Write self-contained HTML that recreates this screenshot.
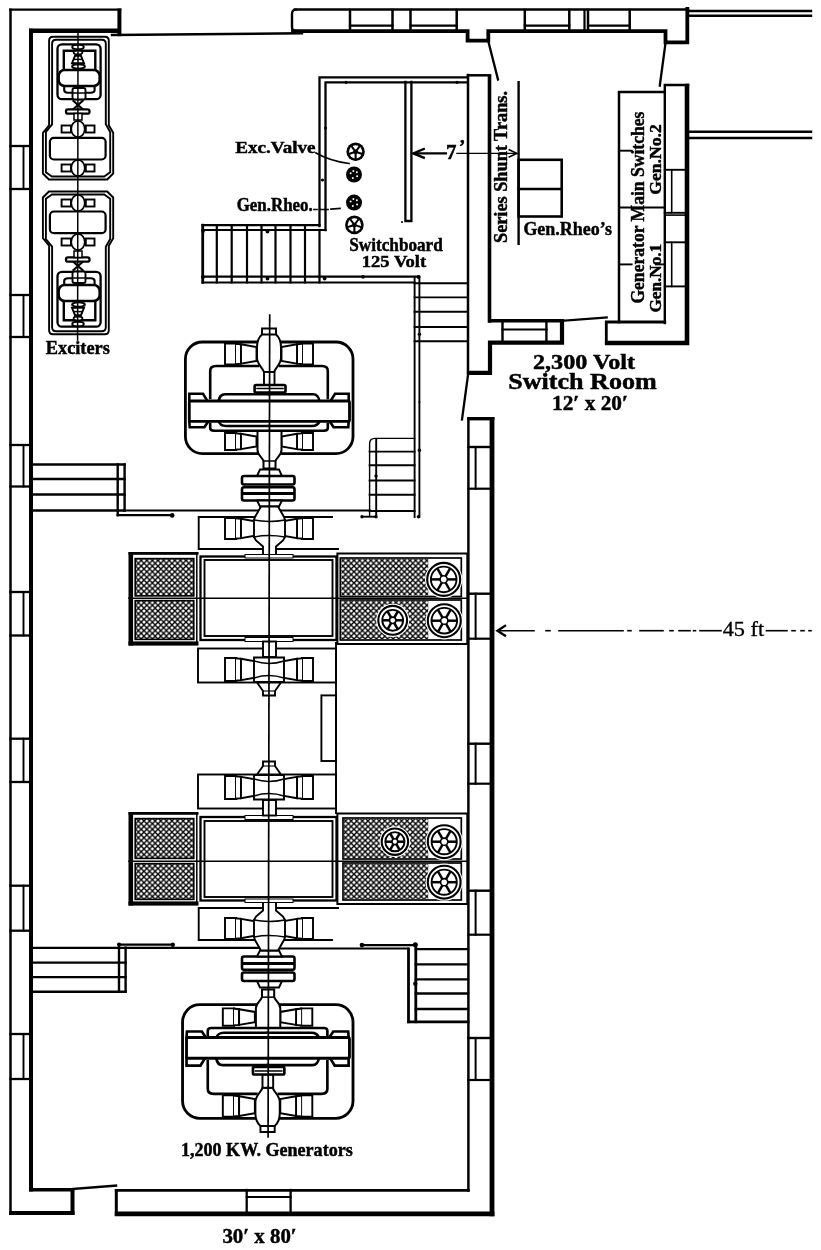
<!DOCTYPE html>
<html><head><meta charset="utf-8"><title>Power plant floor plan</title>
<style>
html,body{margin:0;padding:0;background:#fff;}
body{width:821px;height:1250px;overflow:hidden;font-family:"Liberation Serif",serif;}
svg{display:block;filter:grayscale(1);}
svg path, svg rect, svg circle, svg ellipse{fill:none;stroke:#000;stroke-linecap:square;stroke-linejoin:miter;}
</style></head><body>
<svg width="821" height="1250" viewBox="0 0 821 1250">
<defs>
<pattern id="hatch" width="5.6" height="5.6" patternUnits="userSpaceOnUse" patternTransform="translate(1.2,0.5)">
<rect x="0" y="0" width="5.6" height="5.6" style="fill:#fff;stroke:none"/>
<path d="M-1,-1L6.6,6.6M-1,6.6L6.6,-1M-3.8,1.7999999999999998L3.8,9.399999999999999M1.7999999999999998,-3.8L9.399999999999999,3.8M-3.8,3.8L3.8,-3.8M1.7999999999999998,9.399999999999999L9.399999999999999,1.7999999999999998" style="stroke:#000;stroke-width:1.35;fill:none;stroke-linecap:butt"/>
</pattern>

</defs>
<rect x="0" y="0" width="821" height="1250" style="fill:#fff;stroke:none"/>
<g id="walls">
<path d="M10.5,9.7L10.5,1213.75" stroke-width="2.5"/>
<path d="M31,30.8L31,1189.5" stroke-width="4"/>
<path d="M10.4,9.6L120.2,9.6" stroke-width="2.3"/>
<path d="M119.4,10.5L119.4,34.2" stroke-width="4"/>
<path d="M31.2,30.8L118,30.8" stroke-width="4.4"/>
<path d="M112,35L302,33.3" stroke-width="2.4"/>
<path d="M296,9.6 Q292,9.6 292,14 L292,27 Q292,31 296,31" stroke-width="2.4"/>
<path d="M295,9.6L688,9.6" stroke-width="2.5"/>
<path d="M293,31.2L467.6,31.2L467.6,40.6L488.3,40.6L488.3,31.2L665.5,31.2L665.5,42.3L687.3,42.3L687.3,9" stroke-width="3.8"/>
<path d="M350,10L350,31" stroke-width="2.5"/>
<path d="M392.5,10L392.5,31" stroke-width="2.5"/>
<path d="M350,25.6L392.5,25.6" stroke-width="2.2"/>
<path d="M410.5,10L410.5,31" stroke-width="2.5"/>
<path d="M456.7,10L456.7,31" stroke-width="2.5"/>
<path d="M410.5,25.6L456.7,25.6" stroke-width="2.2"/>
<path d="M524.8,10L524.8,31" stroke-width="2.5"/>
<path d="M569.3,10L569.3,31" stroke-width="2.5"/>
<path d="M524.8,25.6L569.3,25.6" stroke-width="2.2"/>
<path d="M588,10L588,31" stroke-width="2.5"/>
<path d="M629.7,10L629.7,31" stroke-width="2.5"/>
<path d="M588,25.6L629.7,25.6" stroke-width="2.2"/>
<path d="M584.5,10L584.5,31" stroke-width="2.2"/>
<path d="M688,11L811,11" stroke-width="2.4"/>
<path d="M688,15.8L811,15.8" stroke-width="2.4"/>
<path d="M688,131.7L811,131.7" stroke-width="2.5"/>
<path d="M688,138L811,138" stroke-width="2.5"/>
<path d="M31,1189.8L72.5,1189.8" stroke-width="3.4"/>
<path d="M11.2,1213L72.5,1213" stroke-width="4"/>
<path d="M72.5,1190L72.5,1213" stroke-width="4"/>
<path d="M73,1189L116,1185.6" stroke-width="2.4"/>
<path d="M116.3,1190.5L116.3,1214.5" stroke-width="3"/>
<path d="M116.2,1190.3L468.3,1190.3" stroke-width="2.7"/>
<path d="M117.2,1213.8L492,1213.8" stroke-width="4.8"/>
<path d="M246.7,1190L246.7,1213" stroke-width="2.3"/>
<path d="M290.6,1190L290.6,1213" stroke-width="2.3"/>
<path d="M246.7,1197L290.6,1197" stroke-width="2.0"/>
<path d="M468.4,418.5L468.4,1190.4" stroke-width="2.5"/>
<path d="M492,419.4L492,1213.8" stroke-width="4.8"/>
<path d="M468.9,418.7L492.7,418.7" stroke-width="3.4"/>
<path d="M10.5,146L31,146" stroke-width="2.3"/>
<path d="M10.5,189L31,189" stroke-width="2.3"/>
<path d="M23.5,146L23.5,189" stroke-width="1.9"/>
<path d="M10.5,295L31,295" stroke-width="2.3"/>
<path d="M10.5,337L31,337" stroke-width="2.3"/>
<path d="M23.5,295L23.5,337" stroke-width="1.9"/>
<path d="M10.5,445L31,445" stroke-width="2.3"/>
<path d="M10.5,486.5L31,486.5" stroke-width="2.3"/>
<path d="M23.5,445L23.5,486.5" stroke-width="1.9"/>
<path d="M10.5,592L31,592" stroke-width="2.3"/>
<path d="M10.5,635.5L31,635.5" stroke-width="2.3"/>
<path d="M23.5,592L23.5,635.5" stroke-width="1.9"/>
<path d="M10.5,738.7L31,738.7" stroke-width="2.3"/>
<path d="M10.5,782L31,782" stroke-width="2.3"/>
<path d="M23.5,738.7L23.5,782" stroke-width="1.9"/>
<path d="M10.5,885.7L31,885.7" stroke-width="2.3"/>
<path d="M10.5,930.7L31,930.7" stroke-width="2.3"/>
<path d="M23.5,885.7L23.5,930.7" stroke-width="1.9"/>
<path d="M10.5,1034L31,1034" stroke-width="2.3"/>
<path d="M10.5,1079L31,1079" stroke-width="2.3"/>
<path d="M23.5,1034L23.5,1079" stroke-width="1.9"/>
<path d="M468.4,447L492,447" stroke-width="2.4"/>
<path d="M468.4,488.7L492,488.7" stroke-width="2.2"/>
<path d="M475.6,447L475.6,488.7" stroke-width="2.0"/>
<path d="M468.4,593.7L492,593.7" stroke-width="2.4"/>
<path d="M468.4,638.7L492,638.7" stroke-width="2.2"/>
<path d="M475.6,593.7L475.6,638.7" stroke-width="2.0"/>
<path d="M468.4,743.7L492,743.7" stroke-width="2.4"/>
<path d="M468.4,783.7L492,783.7" stroke-width="2.2"/>
<path d="M475.6,743.7L475.6,783.7" stroke-width="2.0"/>
<path d="M468.4,890.7L492,890.7" stroke-width="2.4"/>
<path d="M468.4,934.7L492,934.7" stroke-width="2.2"/>
<path d="M475.6,890.7L475.6,934.7" stroke-width="2.0"/>
<path d="M468.4,1038L492,1038" stroke-width="2.4"/>
<path d="M468.4,1080L492,1080" stroke-width="2.2"/>
<path d="M475.6,1038L475.6,1080" stroke-width="2.0"/>
</g>
<g id="switchroom">
<path d="M468,75L468,373" stroke-width="2.5"/>
<path d="M468,75.3L490,75.3" stroke-width="2.5"/>
<path d="M489.5,77L489.5,321" stroke-width="3.6"/>
<path d="M490,320.7L562.4,320.7" stroke-width="3.4"/>
<path d="M562,321L562,342.6L490,342.6L490,372.9L469,372.9" stroke-width="4.2"/>
<path d="M502.5,320.7L502.5,342.6" stroke-width="2.4"/>
<path d="M546.4,320.7L546.4,342.6" stroke-width="2.4"/>
<path d="M502.5,329.5L546.4,329.5" stroke-width="2.2"/>
<path d="M565,320.5L606.7,317.4" stroke-width="2.2"/>
<path d="M468,375L462,419.4" stroke-width="2.3"/>
<path d="M488.5,42L498,79.5" stroke-width="2.3"/>
<path d="M665.5,43L659.8,85.6" stroke-width="2.3"/>
<path d="M606.3,343L606.3,322L664.8,322" stroke-width="2.8"/>
<path d="M607.2,343L687,343L687,86.1" stroke-width="4.6"/>
<path d="M688,85L664.8,85L664.8,323" stroke-width="2.4"/>
<path d="M664.8,169.8L687,169.8" stroke-width="1.9"/>
<path d="M664.8,212.8L687,212.8" stroke-width="1.9"/>
<path d="M671.7,169.8L671.7,212.8" stroke-width="1.6"/>
<path d="M664.8,242.3L687,242.3" stroke-width="1.9"/>
<path d="M664.8,286.4L687,286.4" stroke-width="1.9"/>
<path d="M671.7,242.3L671.7,286.4" stroke-width="1.6"/>
<path d="M664.8,215.1L687,215.1" stroke-width="1.6"/>
<path d="M619,322L619,92L664.8,92" stroke-width="2.5"/>
<path d="M619.4,150.7L631.6,150.7" stroke-width="1.9"/>
<path d="M619.4,207.5L664.7,207.5" stroke-width="1.9"/>
<path d="M619.4,264.4L631.6,264.4" stroke-width="1.9"/>
<path d="M656,264.4L664.7,264.4" stroke-width="1.9"/>
<path d="M518.6,82.2L518.6,243.8" stroke-width="2.4"/>
<rect x="518.6" y="159.8" width="43.1" height="56.7" rx="0" stroke-width="2.6" style="fill:none"/>
<path d="M518.6,189L561.7,189" stroke-width="2.6"/>
<path d="M414,153.4L446,153.4" stroke-width="2.1"/>
<path d="M457,153.4L516,153.4" stroke-width="1.4"/>
<path d="M423.8,149L413.2,153.4L423.8,157.7" stroke-width="2.3"/>
<path d="M509.3,149.8L516.8,153.4L509.3,157" stroke-width="1.6"/>
</g>
<g id="switchboard">
<path d="M319.5,226L319.5,77.3L467,77.3" stroke-width="2.3"/>
<path d="M325.5,230L325.5,82.3L467,82.3" stroke-width="2.3"/>
<path d="M405.4,82L405.4,221L411.4,221L411.4,82" stroke-width="2.3"/>
<circle cx="402" cy="222" r="1" style="fill:#000;stroke:none"/>
<circle cx="346" cy="82.3" r="1.6" style="fill:#000;stroke:none"/>
<circle cx="457" cy="82.3" r="1.6" style="fill:#000;stroke:none"/>
<circle cx="325.5" cy="128" r="1.6" style="fill:#000;stroke:none"/>
<circle cx="322.5" cy="180" r="1.6" style="fill:#000;stroke:none"/>
<path d="M202.7,225.2L319.5,225.2" stroke-width="2.2"/>
<path d="M202.7,230L325.5,230" stroke-width="2.0"/>
<path d="M202.7,276.7L419,276.7" stroke-width="2.2"/>
<path d="M202.7,282.4L414.6,282.4" stroke-width="2.0"/>
<path d="M202.7,225.2L202.7,282.4" stroke-width="2.8"/>
<path d="M216.8,225.2L216.8,282.4" stroke-width="2.2"/>
<path d="M231.7,225.2L231.7,282.4" stroke-width="2.2"/>
<path d="M247,225.2L247,282.4" stroke-width="2.2"/>
<path d="M261.5,225.2L261.5,282.4" stroke-width="2.2"/>
<path d="M275.5,225.2L275.5,282.4" stroke-width="2.2"/>
<path d="M290.5,225.2L290.5,282.4" stroke-width="2.2"/>
<path d="M305,225.2L305,282.4" stroke-width="2.2"/>
<path d="M319.5,230L319.5,282.4" stroke-width="2.2"/>
<circle cx="267.5" cy="231.5" r="1.9" style="fill:#000;stroke:none"/>
<circle cx="267.5" cy="278.6" r="1.9" style="fill:#000;stroke:none"/>
<circle cx="324.6" cy="278.6" r="1.9" style="fill:#000;stroke:none"/>
<circle cx="363" cy="276.8" r="1.9" style="fill:#000;stroke:none"/>
<circle cx="418.6" cy="277" r="1.9" style="fill:#000;stroke:none"/>
<circle cx="203" cy="231" r="1.9" style="fill:#000;stroke:none"/>
<circle cx="203" cy="277" r="1.9" style="fill:#000;stroke:none"/>
<path d="M414.6,277L414.6,517" stroke-width="1.9"/>
<path d="M419.4,277L419.4,517" stroke-width="1.9"/>
<path d="M414.6,283.2L467.2,283.2" stroke-width="1.9"/>
<path d="M414.6,297.4L467.2,297.4" stroke-width="1.9"/>
<path d="M414.6,311.7L467.2,311.7" stroke-width="1.9"/>
<path d="M414.6,327L467.2,327" stroke-width="1.9"/>
<path d="M414.6,341.3L467.2,341.3" stroke-width="1.9"/>
<circle cx="419.4" cy="334.3" r="1.7" style="fill:#000;stroke:none"/>
<circle cx="419.4" cy="450.3" r="1.7" style="fill:#000;stroke:none"/>
<circle cx="418.4" cy="516.7" r="1.7" style="fill:#000;stroke:none"/>
<circle cx="419.4" cy="402" r="1.0" style="fill:#000;stroke:none"/>
<circle cx="355.6" cy="151.8" r="9.2" style="fill:#000;stroke:none"/>
<circle cx="355.6" cy="151.8" r="6.6" style="fill:#fff;stroke:none"/>
<circle cx="355.6" cy="151.8" r="2.2" style="fill:#000;stroke:none"/>
<path d="M355.6,151.8L362.9,154.2" stroke-width="2.1"/>
<path d="M355.6,151.8L355.6,159.5" stroke-width="2.1"/>
<path d="M355.6,151.8L348.3,154.2" stroke-width="2.1"/>
<path d="M355.6,151.8L351.1,145.6" stroke-width="2.1"/>
<path d="M355.6,151.8L360.1,145.6" stroke-width="2.1"/>
<circle cx="354" cy="174.5" r="8" style="fill:#000;stroke:none"/>
<circle cx="350.6" cy="173.3" r="1.0" style="fill:#fff;stroke:none"/>
<circle cx="353.4" cy="171.0" r="1.0" style="fill:#fff;stroke:none"/>
<circle cx="356.8" cy="172.2" r="1.0" style="fill:#fff;stroke:none"/>
<circle cx="357.1" cy="176.3" r="1.0" style="fill:#fff;stroke:none"/>
<circle cx="352.8" cy="177.9" r="1.0" style="fill:#fff;stroke:none"/>
<circle cx="354" cy="202.6" r="8" style="fill:#000;stroke:none"/>
<circle cx="350.6" cy="201.4" r="1.0" style="fill:#fff;stroke:none"/>
<circle cx="353.4" cy="199.1" r="1.0" style="fill:#fff;stroke:none"/>
<circle cx="356.8" cy="200.3" r="1.0" style="fill:#fff;stroke:none"/>
<circle cx="357.1" cy="204.4" r="1.0" style="fill:#fff;stroke:none"/>
<circle cx="352.8" cy="206.0" r="1.0" style="fill:#fff;stroke:none"/>
<circle cx="354.4" cy="224.9" r="9.3" style="fill:#000;stroke:none"/>
<circle cx="354.4" cy="224.9" r="6.700000000000001" style="fill:#fff;stroke:none"/>
<circle cx="354.4" cy="224.9" r="2.2" style="fill:#000;stroke:none"/>
<path d="M354.4,224.9L361.8,227.3" stroke-width="2.1"/>
<path d="M354.4,224.9L354.4,232.7" stroke-width="2.1"/>
<path d="M354.4,224.9L347.0,227.3" stroke-width="2.1"/>
<path d="M354.4,224.9L349.8,218.6" stroke-width="2.1"/>
<path d="M354.4,224.9L359.0,218.6" stroke-width="2.1"/>
<path d="M316,153 Q330,161 349,163.5" stroke-width="1.7"/>
<path d="M314,209.5 L317,209.5 M320,209.5 L328,209.5 M331,209 L340,208.5" stroke-width="1.7"/>
</g>
<g id="midstairs">
<path d="M31,464.5L124.6,464.5" stroke-width="2.3"/>
<path d="M31,479L124.6,479" stroke-width="2.3"/>
<path d="M31,494.5L124.6,494.5" stroke-width="2.3"/>
<path d="M31,510.5L124.6,510.5" stroke-width="2.3"/>
<path d="M117.7,464.5L117.7,515.2" stroke-width="2.4"/>
<path d="M124.6,464.5L124.6,510.5" stroke-width="2.4"/>
<path d="M117.7,515.2L172,515.2" stroke-width="2.2"/>
<circle cx="172.2" cy="515.4" r="2.3" style="fill:#000;stroke:none"/>
<path d="M124.6,510.5L259,510.5" stroke-width="2.2"/>
<path d="M279,510.5L370,510.5" stroke-width="2.2"/>
<path d="M369.6,516 L369.6,444 Q369.6,438.4 375,438.4 L414.6,438.4" stroke-width="1.4"/>
<path d="M376.2,439L376.2,516.5" stroke-width="1.9"/>
<path d="M369.6,451.6L414.6,451.6" stroke-width="1.9"/>
<path d="M369.6,465.2L414.6,465.2" stroke-width="1.9"/>
<path d="M369.6,480.5L414.6,480.5" stroke-width="1.9"/>
<path d="M369.6,494.8L414.6,494.8" stroke-width="1.9"/>
<path d="M369.6,511L414.6,511" stroke-width="1.9"/>
<path d="M362,516.7L376,516.7" stroke-width="1.9"/>
<circle cx="362" cy="516.7" r="1.7" style="fill:#000;stroke:none"/>
<circle cx="376" cy="516.7" r="1.7" style="fill:#000;stroke:none"/>
<circle cx="376" cy="476" r="1.7" style="fill:#000;stroke:none"/>
<path d="M31,947.8L125.6,947.8" stroke-width="2.2"/>
<path d="M31,962.7L125.6,962.7" stroke-width="2.2"/>
<path d="M31,977.2L125.6,977.2" stroke-width="2.2"/>
<path d="M31,991.7L125.6,991.7" stroke-width="2.6"/>
<path d="M119,944.7L119,991.7" stroke-width="2.4"/>
<path d="M125.6,947.8L125.6,991.7" stroke-width="2.4"/>
<path d="M119,944.7L172.5,944.7" stroke-width="2.3"/>
<circle cx="172.8" cy="944.7" r="2.2" style="fill:#000;stroke:none"/>
<circle cx="119" cy="944.5" r="2.0" style="fill:#000;stroke:none"/>
<path d="M125.6,947.8L259,947.8" stroke-width="2.2"/>
<path d="M279,948.5L408,948.5" stroke-width="2.2"/>
<path d="M408.5,949L408.5,1021.8" stroke-width="2.8"/>
<path d="M415.8,945L415.8,1021.8" stroke-width="2.8"/>
<path d="M415.8,949.1L468,949.1" stroke-width="2.3"/>
<path d="M415.8,964.3L468,964.3" stroke-width="2.3"/>
<path d="M415.8,979.4L468,979.4" stroke-width="2.3"/>
<path d="M415.8,993.5L468,993.5" stroke-width="2.3"/>
<path d="M415.8,1009L468,1009" stroke-width="2.3"/>
<path d="M408.5,1021.8L468,1021.8" stroke-width="2.8"/>
<path d="M361.9,945.1L415,945.1" stroke-width="2.3"/>
<circle cx="361.9" cy="945.1" r="2.3" style="fill:#000;stroke:none"/>
<circle cx="415.3" cy="944.8" r="2.5" style="fill:#000;stroke:none"/>
<circle cx="415.3" cy="983.8" r="2.2" style="fill:#000;stroke:none"/>
</g>
<path d="M336,643L336,813" stroke-width="1.9"/>
<rect x="321.4" y="695.4" width="14.6" height="65.6" rx="0" stroke-width="1.9" style="fill:none"/>
<g id="unit">
<rect x="185.4" y="342" width="167.6" height="111.6" rx="17" stroke-width="2.8" style="fill:#fff"/>
<path d="M210.2,398L210.2,371Q210.2,366,216,366L258,366" stroke-width="2.6" style="fill:none"/>
<path d="M327.8,398L327.8,371Q327.8,366,322,366L280,366" stroke-width="2.6" style="fill:none"/>
<path d="M210.2,424L210.2,428Q210.2,430.7,214,430.7L269,430.7" stroke-width="2.6" style="fill:none"/>
<path d="M327.8,424L327.8,428Q327.8,430.7,324,430.7L269,430.7" stroke-width="2.6" style="fill:none"/>
<path d="M189.3,401L189.3,393.8L203,393.8L207.5,401" stroke-width="2.6" style="fill:#fff"/>
<path d="M348.7,401L348.7,393.8L335,393.8L330.5,401" stroke-width="2.6" style="fill:#fff"/>
<path d="M189.3,421.4L189.7,427.3L204.4,427.3L208.3,421.4" stroke-width="2.6" style="fill:#fff"/>
<path d="M348.7,421.4L348.3,427.3L333.6,427.3L329.7,421.4" stroke-width="2.6" style="fill:#fff"/>
<path d="M218.5,401Q219.5,394.2,225,394.2L269,394.2" stroke-width="2.6" style="fill:none"/>
<path d="M319.5,401Q318.5,394.2,313,394.2L269,394.2" stroke-width="2.6" style="fill:none"/>
<path d="M218.5,421.4Q220,426,226,426L269,426" stroke-width="2.6" style="fill:none"/>
<path d="M319.5,421.4Q318,426,312,426L269,426" stroke-width="2.6" style="fill:none"/>
<rect x="189.3" y="401" width="160.2" height="20.4" rx="1.5" stroke-width="2.8" style="fill:#fff"/>
<path d="M225,343.5L236,343.5L236,364.5L225,364.5Z" stroke-width="1.9" style="fill:#fff"/>
<path d="M313,343.5L302,343.5L302,364.5L313,364.5Z" stroke-width="1.9" style="fill:#fff"/>
<path d="M236,343.8L241,344.3L241,363.7L236,364.2" stroke-width="1.9" style="fill:#fff"/>
<path d="M302,343.8L297,344.3L297,363.7L302,364.2" stroke-width="1.9" style="fill:#fff"/>
<path d="M241,344.3L256.5,347.0L256.5,361.0L241,363.7Z" stroke-width="1.9" style="fill:#fff"/>
<path d="M297,344.3L281.5,347.0L281.5,361.0L297,363.7Z" stroke-width="1.9" style="fill:#fff"/>
<path d="M262,334.5 L262,328.5 L276,328.5 L276,334.5" stroke-width="1.9" style="fill:#fff"/>
<path d="M262,334.5 C258,338 257,342 257,347 L257,358 C257,364 262,367 264,372 L274,372 C276,367 281,364 281,358 L281,347 C281,342 280,338 276,334.5 Z" stroke-width="2" style="fill:#fff"/>
<rect x="264" y="372" width="10.5" height="13" rx="0" stroke-width="1.9" style="fill:#fff"/>
<rect x="254.6" y="385" width="30.9" height="7.5" rx="1.5" stroke-width="2.6" style="fill:#fff"/>
<path d="M257,388.5L283,388.5" stroke-width="1.5"/>
<path d="M225,433.0L236,433.0L236,450.0L225,450.0Z" stroke-width="1.9" style="fill:#fff"/>
<path d="M313,433.0L302,433.0L302,450.0L313,450.0Z" stroke-width="1.9" style="fill:#fff"/>
<path d="M236,433.3L241,433.8L241,449.2L236,449.7" stroke-width="1.9" style="fill:#fff"/>
<path d="M302,433.3L297,433.8L297,449.2L302,449.7" stroke-width="1.9" style="fill:#fff"/>
<path d="M241,433.8L256.5,436.5L256.5,446.5L241,449.2Z" stroke-width="1.9" style="fill:#fff"/>
<path d="M297,433.8L281.5,436.5L281.5,446.5L297,449.2Z" stroke-width="1.9" style="fill:#fff"/>
<path d="M257.5,431 L257.5,450 C257.5,455 262,457 263.5,461 L263.5,468.5 L275.5,468.5 L275.5,461 C277,457 281.5,455 281.5,450 L281.5,431 Z" stroke-width="2" style="fill:#fff"/>
<path d="M263.5,461L275.5,461" stroke-width="1.5"/>
<!--SPLIT-->
<path d="M257,476 L260,469.5 L279,469.5 L282,476 Z" stroke-width="1.9" style="fill:#fff"/>
<rect x="242" y="476" width="52.5" height="8.5" rx="2" stroke-width="2.6" style="fill:#fff"/>
<rect x="242" y="487.2" width="52.5" height="13.3" rx="2" stroke-width="2.6" style="fill:#fff"/>
<path d="M243,493.5L293.5,493.5" stroke-width="2.8"/>
<path d="M257,500.5 L260,506.5 L279,506.5 L282,500.5 Z" stroke-width="1.9" style="fill:#fff"/>
<!--SPLIT-->
<path d="M332,517L198.7,517L198.7,549L338,549" stroke-width="1.9"/>
<path d="M225,518.0L236,518.0L236,539.0L225,539.0Z" stroke-width="1.9" style="fill:#fff"/>
<path d="M313,518.0L302,518.0L302,539.0L313,539.0Z" stroke-width="1.9" style="fill:#fff"/>
<path d="M236,518.3L241,518.8L241,538.2L236,538.7" stroke-width="1.9" style="fill:#fff"/>
<path d="M302,518.3L297,518.8L297,538.2L302,538.7" stroke-width="1.9" style="fill:#fff"/>
<path d="M241,518.8L256.5,521.5L256.5,535.5L241,538.2Z" stroke-width="1.9" style="fill:#fff"/>
<path d="M297,518.8L281.5,521.5L281.5,535.5L297,538.2Z" stroke-width="1.9" style="fill:#fff"/>
<path d="M261,506.5 L255,517 L254,520 L254,537 L256,540.5 L263,546.5 L263,556 L276,556 L276,546.5 L283,540.5 L285,537 L285,520 L284,517 L278,506.5 Z" stroke-width="1.9" style="fill:#fff"/>
<path d="M254,520 Q269,523 285,520 M254,537 Q269,534 285,537" stroke-width="1.5"/>
<rect x="200.5" y="556.5" width="136.0" height="83.5" rx="0" stroke-width="2.3" style="fill:#fff"/>
<rect x="204.5" y="560" width="128.0" height="76" rx="0" stroke-width="1.9" style="fill:none"/>
<rect x="245" y="554.5" width="48" height="3.5" rx="0" stroke-width="1.0" style="fill:#fff"/>
<rect x="245" y="637.5" width="48" height="4.0" rx="0" stroke-width="1.0" style="fill:#fff"/>
<!--SPLIT-->
<rect x="198" y="648.5" width="138" height="34.0" rx="0" stroke-width="1.9" style="fill:none"/>
<rect x="263" y="641.5" width="13" height="15.5" rx="0" stroke-width="1.9" style="fill:#fff"/>
<path d="M225,658.0L236,658.0L236,681.0L225,681.0Z" stroke-width="1.9" style="fill:#fff"/>
<path d="M313,658.0L302,658.0L302,681.0L313,681.0Z" stroke-width="1.9" style="fill:#fff"/>
<path d="M236,658.3L241,658.8L241,680.2L236,680.7" stroke-width="1.9" style="fill:#fff"/>
<path d="M302,658.3L297,658.8L297,680.2L302,680.7" stroke-width="1.9" style="fill:#fff"/>
<path d="M241,658.8L256.5,661.5L256.5,677.5L241,680.2Z" stroke-width="1.9" style="fill:#fff"/>
<path d="M297,658.8L281.5,661.5L281.5,677.5L297,680.2Z" stroke-width="1.9" style="fill:#fff"/>
<path d="M254,657.5 L284,657.5 L284,682 L254,682 Z" stroke-width="1.9" style="fill:#fff"/>
<path d="M254,661 Q269,666 284,661 M254,678 Q269,673 284,678" stroke-width="1.5"/>
<path d="M257,682.5 L263,691 L263,695.5 L275,695.5 L275,691 L281,682.5 Z" stroke-width="1.9" style="fill:#fff"/>
<path d="M263,691L275,691" stroke-width="1.1"/>
</g>
<g transform="translate(0,1457) scale(1,-1)"><g transform="translate(353,395.5) scale(1.017,1.018) translate(-353,-397.8)">
<rect x="185.4" y="342" width="167.6" height="111.6" rx="17" stroke-width="2.8" style="fill:#fff"/>
<path d="M210.2,398L210.2,371Q210.2,366,216,366L258,366" stroke-width="2.6" style="fill:none"/>
<path d="M327.8,398L327.8,371Q327.8,366,322,366L280,366" stroke-width="2.6" style="fill:none"/>
<path d="M210.2,424L210.2,428Q210.2,430.7,214,430.7L269,430.7" stroke-width="2.6" style="fill:none"/>
<path d="M327.8,424L327.8,428Q327.8,430.7,324,430.7L269,430.7" stroke-width="2.6" style="fill:none"/>
<path d="M189.3,401L189.3,393.8L203,393.8L207.5,401" stroke-width="2.6" style="fill:#fff"/>
<path d="M348.7,401L348.7,393.8L335,393.8L330.5,401" stroke-width="2.6" style="fill:#fff"/>
<path d="M189.3,421.4L189.7,427.3L204.4,427.3L208.3,421.4" stroke-width="2.6" style="fill:#fff"/>
<path d="M348.7,421.4L348.3,427.3L333.6,427.3L329.7,421.4" stroke-width="2.6" style="fill:#fff"/>
<path d="M218.5,401Q219.5,394.2,225,394.2L269,394.2" stroke-width="2.6" style="fill:none"/>
<path d="M319.5,401Q318.5,394.2,313,394.2L269,394.2" stroke-width="2.6" style="fill:none"/>
<path d="M218.5,421.4Q220,426,226,426L269,426" stroke-width="2.6" style="fill:none"/>
<path d="M319.5,421.4Q318,426,312,426L269,426" stroke-width="2.6" style="fill:none"/>
<rect x="189.3" y="401" width="160.2" height="20.4" rx="1.5" stroke-width="2.8" style="fill:#fff"/>
<path d="M225,343.5L236,343.5L236,364.5L225,364.5Z" stroke-width="1.9" style="fill:#fff"/>
<path d="M313,343.5L302,343.5L302,364.5L313,364.5Z" stroke-width="1.9" style="fill:#fff"/>
<path d="M236,343.8L241,344.3L241,363.7L236,364.2" stroke-width="1.9" style="fill:#fff"/>
<path d="M302,343.8L297,344.3L297,363.7L302,364.2" stroke-width="1.9" style="fill:#fff"/>
<path d="M241,344.3L256.5,347.0L256.5,361.0L241,363.7Z" stroke-width="1.9" style="fill:#fff"/>
<path d="M297,344.3L281.5,347.0L281.5,361.0L297,363.7Z" stroke-width="1.9" style="fill:#fff"/>
<path d="M262,334.5 L262,328.5 L276,328.5 L276,334.5" stroke-width="1.9" style="fill:#fff"/>
<path d="M262,334.5 C258,338 257,342 257,347 L257,358 C257,364 262,367 264,372 L274,372 C276,367 281,364 281,358 L281,347 C281,342 280,338 276,334.5 Z" stroke-width="2" style="fill:#fff"/>
<rect x="264" y="372" width="10.5" height="13" rx="0" stroke-width="1.9" style="fill:#fff"/>
<rect x="254.6" y="385" width="30.9" height="7.5" rx="1.5" stroke-width="2.6" style="fill:#fff"/>
<path d="M257,388.5L283,388.5" stroke-width="1.5"/>
<path d="M225,433.0L236,433.0L236,450.0L225,450.0Z" stroke-width="1.9" style="fill:#fff"/>
<path d="M313,433.0L302,433.0L302,450.0L313,450.0Z" stroke-width="1.9" style="fill:#fff"/>
<path d="M236,433.3L241,433.8L241,449.2L236,449.7" stroke-width="1.9" style="fill:#fff"/>
<path d="M302,433.3L297,433.8L297,449.2L302,449.7" stroke-width="1.9" style="fill:#fff"/>
<path d="M241,433.8L256.5,436.5L256.5,446.5L241,449.2Z" stroke-width="1.9" style="fill:#fff"/>
<path d="M297,433.8L281.5,436.5L281.5,446.5L297,449.2Z" stroke-width="1.9" style="fill:#fff"/>
<path d="M257.5,431 L257.5,450 C257.5,455 262,457 263.5,461 L263.5,468.5 L275.5,468.5 L275.5,461 C277,457 281.5,455 281.5,450 L281.5,431 Z" stroke-width="2" style="fill:#fff"/>
<path d="M263.5,461L275.5,461" stroke-width="1.5"/>
</g>
<path d="M257,476 L260,469.5 L279,469.5 L282,476 Z" stroke-width="1.9" style="fill:#fff"/>
<rect x="242" y="476" width="52.5" height="8.5" rx="2" stroke-width="2.6" style="fill:#fff"/>
<rect x="242" y="487.2" width="52.5" height="13.3" rx="2" stroke-width="2.6" style="fill:#fff"/>
<path d="M243,493.5L293.5,493.5" stroke-width="2.8"/>
<path d="M257,500.5 L260,506.5 L279,506.5 L282,500.5 Z" stroke-width="1.9" style="fill:#fff"/>

<path d="M332,517L198.7,517L198.7,549L338,549" stroke-width="1.9"/>
<path d="M225,518.0L236,518.0L236,539.0L225,539.0Z" stroke-width="1.9" style="fill:#fff"/>
<path d="M313,518.0L302,518.0L302,539.0L313,539.0Z" stroke-width="1.9" style="fill:#fff"/>
<path d="M236,518.3L241,518.8L241,538.2L236,538.7" stroke-width="1.9" style="fill:#fff"/>
<path d="M302,518.3L297,518.8L297,538.2L302,538.7" stroke-width="1.9" style="fill:#fff"/>
<path d="M241,518.8L256.5,521.5L256.5,535.5L241,538.2Z" stroke-width="1.9" style="fill:#fff"/>
<path d="M297,518.8L281.5,521.5L281.5,535.5L297,538.2Z" stroke-width="1.9" style="fill:#fff"/>
<path d="M261,506.5 L255,517 L254,520 L254,537 L256,540.5 L263,546.5 L263,556 L276,556 L276,546.5 L283,540.5 L285,537 L285,520 L284,517 L278,506.5 Z" stroke-width="1.9" style="fill:#fff"/>
<path d="M254,520 Q269,523 285,520 M254,537 Q269,534 285,537" stroke-width="1.5"/>
<rect x="200.5" y="556.5" width="136.0" height="83.5" rx="0" stroke-width="2.3" style="fill:#fff"/>
<rect x="204.5" y="560" width="128.0" height="76" rx="0" stroke-width="1.9" style="fill:none"/>
<rect x="245" y="554.5" width="48" height="3.5" rx="0" stroke-width="1.0" style="fill:#fff"/>
<rect x="245" y="637.5" width="48" height="4.0" rx="0" stroke-width="1.0" style="fill:#fff"/>

<rect x="198" y="648.5" width="138" height="34.0" rx="0" stroke-width="1.9" style="fill:none"/>
<rect x="263" y="641.5" width="13" height="15.5" rx="0" stroke-width="1.9" style="fill:#fff"/>
<path d="M225,658.0L236,658.0L236,681.0L225,681.0Z" stroke-width="1.9" style="fill:#fff"/>
<path d="M313,658.0L302,658.0L302,681.0L313,681.0Z" stroke-width="1.9" style="fill:#fff"/>
<path d="M236,658.3L241,658.8L241,680.2L236,680.7" stroke-width="1.9" style="fill:#fff"/>
<path d="M302,658.3L297,658.8L297,680.2L302,680.7" stroke-width="1.9" style="fill:#fff"/>
<path d="M241,658.8L256.5,661.5L256.5,677.5L241,680.2Z" stroke-width="1.9" style="fill:#fff"/>
<path d="M297,658.8L281.5,661.5L281.5,677.5L297,680.2Z" stroke-width="1.9" style="fill:#fff"/>
<path d="M254,657.5 L284,657.5 L284,682 L254,682 Z" stroke-width="1.9" style="fill:#fff"/>
<path d="M254,661 Q269,666 284,661 M254,678 Q269,673 284,678" stroke-width="1.5"/>
<path d="M257,682.5 L263,691 L263,695.5 L275,695.5 L275,691 L281,682.5 Z" stroke-width="1.9" style="fill:#fff"/>
<path d="M263,691L275,691" stroke-width="1.1"/>
</g>
<rect x="128.5" y="552" width="4.6" height="93.5" style="fill:#000;stroke:none"/>
<rect x="128.5" y="552" width="70" height="2.8" style="fill:#000;stroke:none"/>
<rect x="128.5" y="641.4" width="70" height="4.2" style="fill:#000;stroke:none"/>
<path d="M196.8,554L196.8,642" stroke-width="1.5"/>
<rect x="135.2" y="558.6" width="58.6" height="37.3" rx="0" stroke-width="1.6" style="fill:url(#hatch)"/>
<rect x="135.2" y="600.6" width="58.6" height="38.8" rx="0" stroke-width="1.6" style="fill:url(#hatch)"/>
<rect x="337.4" y="553.5" width="129.9" height="90.5" rx="0" stroke-width="2.0" style="fill:#fff"/>
<rect x="340.3" y="558" width="121.0" height="38.5" rx="0" stroke-width="1.7" style="fill:#fff"/>
<rect x="340.3" y="600" width="121.0" height="40" rx="0" stroke-width="1.7" style="fill:#fff"/>
<rect x="341.3" y="559" width="87.0" height="36.5" style="fill:url(#hatch);stroke:none"/>
<rect x="341.3" y="601" width="87.0" height="38" style="fill:url(#hatch);stroke:none"/>
<path d="M129,598.3L467,598.3" stroke-width="1.6"/>
<circle cx="443.7" cy="579.4" r="18.7" style="fill:#fff;stroke:none"/>
<circle cx="443.7" cy="579.4" r="16.5" stroke-width="2.1" style="fill:#fff"/>
<circle cx="443.7" cy="579.4" r="12.8" stroke-width="1.9"/>
<circle cx="443.7" cy="579.4" r="3.6" stroke-width="1.6"/>
<path d="M447.3,579.4L456.5,579.4" stroke-width="2.5" style="stroke-linecap:butt"/>
<path d="M445.5,582.5L450.1,590.5" stroke-width="2.5" style="stroke-linecap:butt"/>
<path d="M441.9,582.5L437.3,590.5" stroke-width="2.5" style="stroke-linecap:butt"/>
<path d="M440.1,579.4L430.9,579.4" stroke-width="2.5" style="stroke-linecap:butt"/>
<path d="M441.9,576.3L437.3,568.3" stroke-width="2.5" style="stroke-linecap:butt"/>
<path d="M445.5,576.3L450.1,568.3" stroke-width="2.5" style="stroke-linecap:butt"/>
<circle cx="444.3" cy="620.7" r="18.7" style="fill:#fff;stroke:none"/>
<circle cx="444.3" cy="620.7" r="16.5" stroke-width="2.1" style="fill:#fff"/>
<circle cx="444.3" cy="620.7" r="12.8" stroke-width="1.9"/>
<circle cx="444.3" cy="620.7" r="3.6" stroke-width="1.6"/>
<path d="M447.9,620.7L457.1,620.7" stroke-width="2.5" style="stroke-linecap:butt"/>
<path d="M446.1,623.8L450.7,631.8" stroke-width="2.5" style="stroke-linecap:butt"/>
<path d="M442.5,623.8L437.9,631.8" stroke-width="2.5" style="stroke-linecap:butt"/>
<path d="M440.7,620.7L431.5,620.7" stroke-width="2.5" style="stroke-linecap:butt"/>
<path d="M442.5,617.6L437.9,609.6" stroke-width="2.5" style="stroke-linecap:butt"/>
<path d="M446.1,617.6L450.7,609.6" stroke-width="2.5" style="stroke-linecap:butt"/>
<circle cx="392.7" cy="620.3" r="16.6" style="fill:#fff;stroke:none"/>
<circle cx="392.7" cy="620.3" r="14.4" stroke-width="2.1" style="fill:#fff"/>
<circle cx="392.7" cy="620.3" r="10.4" stroke-width="1.9"/>
<circle cx="392.7" cy="620.3" r="3.2" stroke-width="1.6"/>
<path d="M395.9,620.3L403.1,620.3" stroke-width="2.5" style="stroke-linecap:butt"/>
<path d="M394.3,623.1L397.9,629.3" stroke-width="2.5" style="stroke-linecap:butt"/>
<path d="M391.1,623.1L387.5,629.3" stroke-width="2.5" style="stroke-linecap:butt"/>
<path d="M389.5,620.3L382.3,620.3" stroke-width="2.5" style="stroke-linecap:butt"/>
<path d="M391.1,617.5L387.5,611.3" stroke-width="2.5" style="stroke-linecap:butt"/>
<path d="M394.3,617.5L397.9,611.3" stroke-width="2.5" style="stroke-linecap:butt"/>
<rect x="128.5" y="812" width="4.6" height="93.5" style="fill:#000;stroke:none"/>
<rect x="128.5" y="812" width="70" height="2.8" style="fill:#000;stroke:none"/>
<rect x="128.5" y="901.4" width="70" height="4.2" style="fill:#000;stroke:none"/>
<path d="M196.8,814L196.8,902" stroke-width="1.5"/>
<rect x="135.2" y="818.6" width="58.6" height="39.8" rx="0" stroke-width="1.6" style="fill:url(#hatch)"/>
<rect x="135.2" y="863.6" width="58.6" height="35.8" rx="0" stroke-width="1.6" style="fill:url(#hatch)"/>
<rect x="337.4" y="813.5" width="129.9" height="90.5" rx="0" stroke-width="2.0" style="fill:#fff"/>
<rect x="343" y="818" width="118.3" height="41" rx="0" stroke-width="1.7" style="fill:#fff"/>
<rect x="343" y="863" width="118.3" height="37" rx="0" stroke-width="1.7" style="fill:#fff"/>
<rect x="344" y="819" width="84.30000000000001" height="39" style="fill:url(#hatch);stroke:none"/>
<rect x="344" y="864" width="84.30000000000001" height="35" style="fill:url(#hatch);stroke:none"/>
<path d="M129,861.2L467,861.2" stroke-width="1.6"/>
<circle cx="444.2" cy="841.7" r="18.599999999999998" style="fill:#fff;stroke:none"/>
<circle cx="444.2" cy="841.7" r="16.4" stroke-width="2.1" style="fill:#fff"/>
<circle cx="444.2" cy="841.7" r="12.6" stroke-width="1.9"/>
<circle cx="444.2" cy="841.7" r="3.6" stroke-width="1.6"/>
<path d="M447.8,841.7L456.8,841.7" stroke-width="2.5" style="stroke-linecap:butt"/>
<path d="M446.0,844.8L450.5,852.6" stroke-width="2.5" style="stroke-linecap:butt"/>
<path d="M442.4,844.8L437.9,852.6" stroke-width="2.5" style="stroke-linecap:butt"/>
<path d="M440.6,841.7L431.6,841.7" stroke-width="2.5" style="stroke-linecap:butt"/>
<path d="M442.4,838.6L437.9,830.8" stroke-width="2.5" style="stroke-linecap:butt"/>
<path d="M446.0,838.6L450.5,830.8" stroke-width="2.5" style="stroke-linecap:butt"/>
<circle cx="444.2" cy="882.2" r="18.599999999999998" style="fill:#fff;stroke:none"/>
<circle cx="444.2" cy="882.2" r="16.4" stroke-width="2.1" style="fill:#fff"/>
<circle cx="444.2" cy="882.2" r="12.6" stroke-width="1.9"/>
<circle cx="444.2" cy="882.2" r="3.6" stroke-width="1.6"/>
<path d="M447.8,882.2L456.8,882.2" stroke-width="2.5" style="stroke-linecap:butt"/>
<path d="M446.0,885.3L450.5,893.1" stroke-width="2.5" style="stroke-linecap:butt"/>
<path d="M442.4,885.3L437.9,893.1" stroke-width="2.5" style="stroke-linecap:butt"/>
<path d="M440.6,882.2L431.6,882.2" stroke-width="2.5" style="stroke-linecap:butt"/>
<path d="M442.4,879.1L437.9,871.3" stroke-width="2.5" style="stroke-linecap:butt"/>
<path d="M446.0,879.1L450.5,871.3" stroke-width="2.5" style="stroke-linecap:butt"/>
<circle cx="394.9" cy="841.7" r="15.399999999999999" style="fill:#fff;stroke:none"/>
<circle cx="394.9" cy="841.7" r="13.2" stroke-width="2.1" style="fill:#fff"/>
<circle cx="394.9" cy="841.7" r="9.6" stroke-width="1.9"/>
<circle cx="394.9" cy="841.7" r="2.9" stroke-width="1.6"/>
<path d="M397.8,841.7L404.5,841.7" stroke-width="2.5" style="stroke-linecap:butt"/>
<path d="M396.3,844.2L399.7,850.0" stroke-width="2.5" style="stroke-linecap:butt"/>
<path d="M393.4,844.2L390.1,850.0" stroke-width="2.5" style="stroke-linecap:butt"/>
<path d="M392.0,841.7L385.3,841.7" stroke-width="2.5" style="stroke-linecap:butt"/>
<path d="M393.4,839.2L390.1,833.4" stroke-width="2.5" style="stroke-linecap:butt"/>
<path d="M396.3,839.2L399.7,833.4" stroke-width="2.5" style="stroke-linecap:butt"/>
<g id="exc">
<path d="M53.1,36.7 L104.8,36.7 Q108.8,36.7 108.8,40.7 L108.8,125.25 L113.2,132.85 L113.2,173.5 L107.2,179.5 L48.9,179.5 L42.9,173.5 L42.9,132.85 L49.1,125.25 L49.1,40.7 Q49.1,36.7 53.1,36.7 Z" stroke-width="1.9"/>
<path d="M56.1,39.7 L101.8,39.7 Q105.8,39.7 105.8,43.7 L105.8,124.35000000000001 L110.2,131.95 L110.2,172.29999999999998 L104.2,176.5 L51.9,176.5 L45.9,172.29999999999998 L45.9,131.95 L52.1,124.35000000000001 L52.1,43.7 Q52.1,39.7 56.1,39.7 Z" stroke-width="1.9"/>
<rect x="57.5" y="44.3" width="43.1" height="54.9" rx="4.5" stroke-width="2.3" style="fill:none"/>
<path d="M63.8,69L63.8,50.8L95.3,50.8L95.3,69" stroke-width="2.4"/>
<rect x="58.6" y="70" width="41.1" height="16" rx="6" stroke-width="2.6" style="fill:#fff"/>
<ellipse cx="78" cy="47" rx="5.8" ry="2.3" stroke-width="1.9" style="fill:#fff"/>
<ellipse cx="78" cy="52.6" rx="4.4" ry="1.9" stroke-width="1.8" style="fill:#fff"/>
<path d="M75,55.8 L81,55.8 L84,63.2 L72,63.2 Z" stroke-width="1.9" style="fill:#fff"/>
<path d="M74,59.4L82,59.4" stroke-width="1.5"/>
<ellipse cx="78.5" cy="66.4" rx="6.4" ry="2.2" stroke-width="1.9" style="fill:#fff"/>
<path d="M64.2,87 L64.2,90 Q64.2,92.7 68,92.7 L90.8,92.7 Q94.6,92.7 94.6,90 L94.6,87" stroke-width="2.1"/>
<rect x="72.5" y="88" width="13.0" height="11.5" rx="2" stroke-width="1.9" style="fill:#fff"/>
<path d="M73,93L85,93" stroke-width="1.5"/>
<path d="M73.5,101 L82.5,109 M82.5,101 L73.5,109" stroke-width="2.2"/>
<rect x="66" y="109.3" width="23.5" height="4.4" rx="2" stroke-width="2.3" style="fill:#fff"/>
<rect x="74" y="113.5" width="8" height="6.5" rx="0" stroke-width="1.5" style="fill:#fff"/>
<rect x="61.6" y="125.5" width="9.4" height="7.0" rx="0" stroke-width="1.9" style="fill:#fff"/>
<rect x="85.8" y="125.5" width="8.7" height="7.0" rx="0" stroke-width="1.9" style="fill:#fff"/>
<ellipse cx="78" cy="129" rx="6.8" ry="8.2" stroke-width="1.8" style="fill:#fff"/>
<rect x="61.6" y="164.5" width="9.4" height="7.0" rx="0" stroke-width="1.9" style="fill:#fff"/>
<rect x="85.8" y="164.5" width="8.7" height="7.0" rx="0" stroke-width="1.9" style="fill:#fff"/>
<ellipse cx="78" cy="168" rx="6.8" ry="8.2" stroke-width="1.8" style="fill:#fff"/>
<rect x="49.9" y="137.8" width="55.7" height="21.7" rx="4" stroke-width="2.2" style="fill:#fff"/>
</g>
<g transform="translate(0,371) scale(1,-1)"><g>
<path d="M53.1,36.7 L104.8,36.7 Q108.8,36.7 108.8,40.7 L108.8,125.25 L113.2,132.85 L113.2,173.5 L107.2,179.5 L48.9,179.5 L42.9,173.5 L42.9,132.85 L49.1,125.25 L49.1,40.7 Q49.1,36.7 53.1,36.7 Z" stroke-width="1.9"/>
<path d="M56.1,39.7 L101.8,39.7 Q105.8,39.7 105.8,43.7 L105.8,124.35000000000001 L110.2,131.95 L110.2,172.29999999999998 L104.2,176.5 L51.9,176.5 L45.9,172.29999999999998 L45.9,131.95 L52.1,124.35000000000001 L52.1,43.7 Q52.1,39.7 56.1,39.7 Z" stroke-width="1.9"/>
<rect x="57.5" y="44.3" width="43.1" height="54.9" rx="4.5" stroke-width="2.3" style="fill:none"/>
<path d="M63.8,69L63.8,50.8L95.3,50.8L95.3,69" stroke-width="2.4"/>
<rect x="58.6" y="70" width="41.1" height="16" rx="6" stroke-width="2.6" style="fill:#fff"/>
<ellipse cx="78" cy="47" rx="5.8" ry="2.3" stroke-width="1.9" style="fill:#fff"/>
<ellipse cx="78" cy="52.6" rx="4.4" ry="1.9" stroke-width="1.8" style="fill:#fff"/>
<path d="M75,55.8 L81,55.8 L84,63.2 L72,63.2 Z" stroke-width="1.9" style="fill:#fff"/>
<path d="M74,59.4L82,59.4" stroke-width="1.5"/>
<ellipse cx="78.5" cy="66.4" rx="6.4" ry="2.2" stroke-width="1.9" style="fill:#fff"/>
<path d="M64.2,87 L64.2,90 Q64.2,92.7 68,92.7 L90.8,92.7 Q94.6,92.7 94.6,90 L94.6,87" stroke-width="2.1"/>
<rect x="72.5" y="88" width="13.0" height="11.5" rx="2" stroke-width="1.9" style="fill:#fff"/>
<path d="M73,93L85,93" stroke-width="1.5"/>
<path d="M73.5,101 L82.5,109 M82.5,101 L73.5,109" stroke-width="2.2"/>
<rect x="66" y="109.3" width="23.5" height="4.4" rx="2" stroke-width="2.3" style="fill:#fff"/>
<rect x="74" y="113.5" width="8" height="6.5" rx="0" stroke-width="1.5" style="fill:#fff"/>
<rect x="61.6" y="125.5" width="9.4" height="7.0" rx="0" stroke-width="1.9" style="fill:#fff"/>
<rect x="85.8" y="125.5" width="8.7" height="7.0" rx="0" stroke-width="1.9" style="fill:#fff"/>
<ellipse cx="78" cy="129" rx="6.8" ry="8.2" stroke-width="1.8" style="fill:#fff"/>
<rect x="61.6" y="164.5" width="9.4" height="7.0" rx="0" stroke-width="1.9" style="fill:#fff"/>
<rect x="85.8" y="164.5" width="8.7" height="7.0" rx="0" stroke-width="1.9" style="fill:#fff"/>
<ellipse cx="78" cy="168" rx="6.8" ry="8.2" stroke-width="1.8" style="fill:#fff"/>
<rect x="49.9" y="137.8" width="55.7" height="21.7" rx="4" stroke-width="2.2" style="fill:#fff"/>
</g></g>
<path d="M269.7,315L268.1,1137" stroke-width="1.7"/>
<path d="M78,30L77.6,340" stroke-width="1.5"/>
<g id="txt">
<path d="M505,625.8L497.5,630.7L505,635.6" stroke-width="2.4"/>
<path d="M498,630.7L534,630.7" stroke-width="1.6"/>
<path d="M546,630.7L550,630.7" stroke-width="1.6"/>
<path d="M559,630.7L623,630.7" stroke-width="1.6"/>
<path d="M628,630.7L631,630.7" stroke-width="1.6"/>
<path d="M640,630.7L663,630.7" stroke-width="1.6"/>
<path d="M670,630.7L673,630.7" stroke-width="1.6"/>
<path d="M679,630.7L690,630.7" stroke-width="1.6"/>
<path d="M693.5,630.7L695.5,630.7" stroke-width="1.6"/>
<path d="M700,630.7L721,630.7" stroke-width="1.6"/>
<path d="M766.5,630.7L787,630.7" stroke-width="1.6"/>
<path d="M792,630.7L795,630.7" stroke-width="1.6"/>
<path d="M801,630.7L804,630.7" stroke-width="1.6"/>
<path d="M809,630.7L811,630.7" stroke-width="1.6"/>
<text x="722.7" y="635.5" font-size="22" font-weight="normal" font-family="Liberation Serif" text-anchor="start" textLength="41.5" lengthAdjust="spacingAndGlyphs" style="fill:#000;stroke:#000;stroke-width:0.35" >45 ft</text>
<text x="45.8" y="353.6" font-size="18.3" font-weight="bold" font-family="Liberation Serif" text-anchor="start" textLength="64" lengthAdjust="spacingAndGlyphs" style="fill:#000;stroke:#000;stroke-width:0.45" >Exciters</text>
<text x="235.2" y="152.8" font-size="16.8" font-weight="bold" font-family="Liberation Serif" text-anchor="start" textLength="80.4" lengthAdjust="spacingAndGlyphs" style="fill:#000;stroke:#000;stroke-width:0.45" >Exc.Valve</text>
<text x="236.7" y="211" font-size="17.8" font-weight="bold" font-family="Liberation Serif" text-anchor="start" textLength="76" lengthAdjust="spacingAndGlyphs" style="fill:#000;stroke:#000;stroke-width:0.45" >Gen.Rheo.</text>
<text x="349.3" y="250.5" font-size="17.8" font-weight="bold" font-family="Liberation Serif" text-anchor="start" textLength="93.5" lengthAdjust="spacingAndGlyphs" style="fill:#000;stroke:#000;stroke-width:0.45" >Switchboard</text>
<text x="361.8" y="267.4" font-size="17" font-weight="bold" font-family="Liberation Serif" text-anchor="start" textLength="64.4" lengthAdjust="spacingAndGlyphs" style="fill:#000;stroke:#000;stroke-width:0.45" >125 Volt</text>
<text x="446" y="159.3" font-size="21" font-weight="bold" font-family="Liberation Serif" text-anchor="start" textLength="10.5" lengthAdjust="spacingAndGlyphs" style="fill:#000;stroke:#000;stroke-width:0.45" >7</text>
<text x="459" y="152.5" font-size="19" font-weight="bold" font-family="Liberation Serif" text-anchor="start" style="fill:#000;stroke:#000;stroke-width:0.45" >&#8217;</text>
<text x="523.4" y="235.3" font-size="19.5" font-weight="bold" font-family="Liberation Serif" text-anchor="start" textLength="88.6" lengthAdjust="spacingAndGlyphs" style="fill:#000;stroke:#000;stroke-width:0.45" >Gen.Rheo&#8217;s</text>
<text x="533" y="369.4" font-size="20.6" font-weight="bold" font-family="Liberation Serif" text-anchor="start" textLength="102" lengthAdjust="spacingAndGlyphs" style="fill:#000;stroke:#000;stroke-width:0.45" >2,300 Volt</text>
<text x="508.2" y="389.2" font-size="22.3" font-weight="bold" font-family="Liberation Serif" text-anchor="start" textLength="148.5" lengthAdjust="spacingAndGlyphs" style="fill:#000;stroke:#000;stroke-width:0.45" >Switch Room</text>
<text x="552" y="409.5" font-size="20" font-weight="bold" font-family="Liberation Serif" text-anchor="start" textLength="76" lengthAdjust="spacingAndGlyphs" style="fill:#000;stroke:#000;stroke-width:0.45" >12&#8242; x 20&#8242;</text>
<text x="506.8" y="243" font-size="19" font-weight="bold" font-family="Liberation Serif" text-anchor="start" textLength="152" lengthAdjust="spacingAndGlyphs" transform="rotate(-90 506.8 243)" style="fill:#000;stroke:#000;stroke-width:0.45" >Series Shunt Trans.</text>
<text x="644.3" y="303.6" font-size="19.4" font-weight="bold" font-family="Liberation Serif" text-anchor="start" textLength="192" lengthAdjust="spacingAndGlyphs" transform="rotate(-90 644.3 303.6)" style="fill:#000;stroke:#000;stroke-width:0.45" >Generator Main Switches</text>
<text x="661.4" y="194.8" font-size="17" font-weight="bold" font-family="Liberation Serif" text-anchor="start" textLength="70.6" lengthAdjust="spacingAndGlyphs" transform="rotate(-90 661.4 194.8)" style="fill:#000;stroke:#000;stroke-width:0.45" >Gen.No.2</text>
<text x="661.4" y="312.5" font-size="17" font-weight="bold" font-family="Liberation Serif" text-anchor="start" textLength="68.7" lengthAdjust="spacingAndGlyphs" transform="rotate(-90 661.4 312.5)" style="fill:#000;stroke:#000;stroke-width:0.45" >Gen.No.1</text>
<text x="181" y="1155.6" font-size="17.8" font-weight="bold" font-family="Liberation Serif" text-anchor="start" textLength="171.7" lengthAdjust="spacingAndGlyphs" style="fill:#000;stroke:#000;stroke-width:0.45" >1,200 KW. Generators</text>
<text x="222.4" y="1243.3" font-size="22" font-weight="bold" font-family="Liberation Serif" text-anchor="start" textLength="74.3" lengthAdjust="spacingAndGlyphs" style="fill:#000;stroke:#000;stroke-width:0.45" >30&#8242; x 80&#8242;</text>
</g>
</svg>
</body></html>
